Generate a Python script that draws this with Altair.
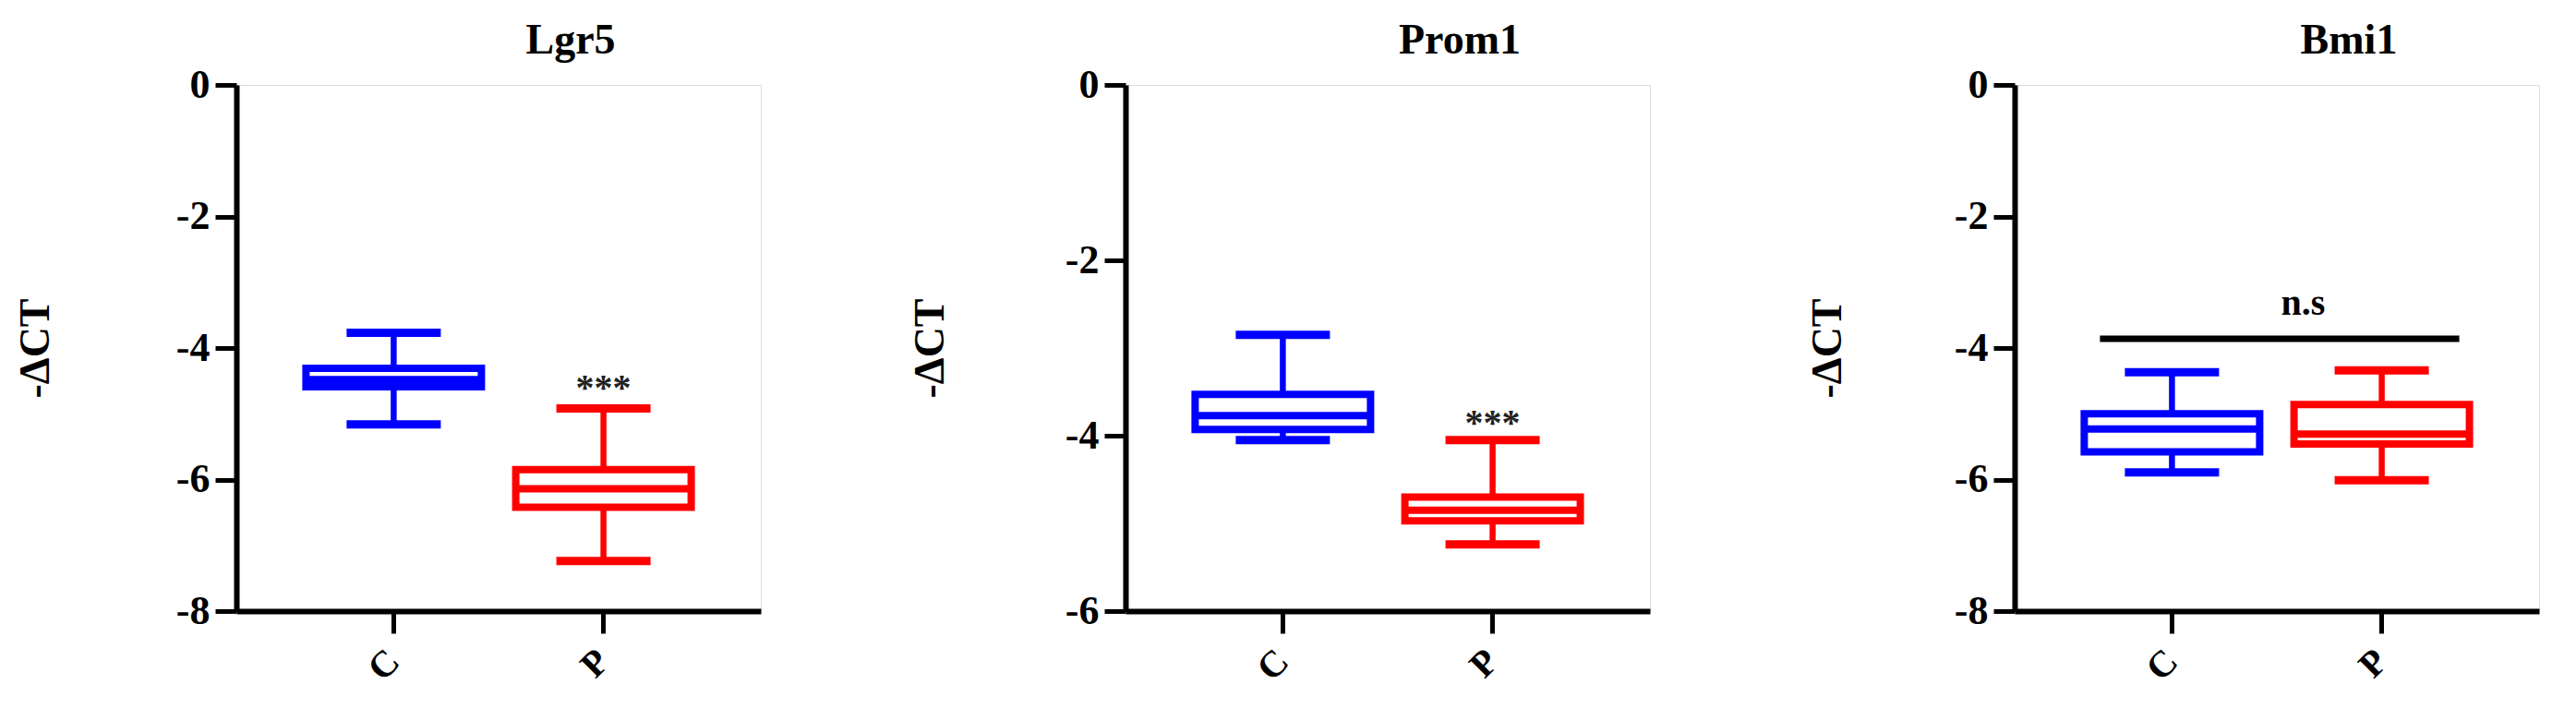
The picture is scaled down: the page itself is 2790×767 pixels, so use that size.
import altair as alt
import pandas as pd

genes = ["Lgr5", "Prom1", "Bmi1"]
groups = ["C", "P"]
group_colors = ["#0000FF", "#FF0000"]

# box statistics per gene, one value per group (C, P)
low = {"Lgr5": [-5.16, -7.24], "Prom1": [-4.05, -5.24], "Bmi1": [-5.89, -6.01]}
q1 = {"Lgr5": [-4.59, -6.42], "Prom1": [-3.93, -4.97], "Bmi1": [-5.58, -5.46]}
median = {"Lgr5": [-4.48, -6.14], "Prom1": [-3.77, -4.85], "Bmi1": [-5.23, -5.31]}
q3 = {"Lgr5": [-4.31, -5.85], "Prom1": [-3.53, -4.70], "Bmi1": [-5.00, -4.86]}
high = {"Lgr5": [-3.77, -4.92], "Prom1": [-2.85, -4.05], "Bmi1": [-4.37, -4.34]}

y_min = {"Lgr5": -8, "Prom1": -6, "Bmi1": -8}
y_ticks = {"Lgr5": [0, -2, -4, -6, -8], "Prom1": [0, -2, -4, -6], "Bmi1": [0, -2, -4, -6, -8]}

sig_label = {"Lgr5": "***", "Prom1": "***", "Bmi1": "n.s"}
sig_y = {"Lgr5": -4.50, "Prom1": -3.78, "Bmi1": -3.36}
ns_line_y = -3.86

FONT = "Liberation Serif"
W, H = 568, 570
title_x = {"Lgr5": -218, "Prom1": -212, "Bmi1": -203}
color_scale = alt.Scale(domain=groups, range=group_colors)


def panel(g):
    df = pd.DataFrame({
        "group": groups,
        "low": low[g], "q1": q1[g], "median": median[g], "q3": q3[g], "high": high[g],
    })
    caps = pd.concat([
        pd.DataFrame({"group": groups, "v": low[g]}),
        pd.DataFrame({"group": groups, "v": high[g]}),
    ])
    yscale = alt.Scale(domain=[y_min[g], 0], nice=False, zero=False)
    xscale = alt.Scale(domain=groups, padding=0.5)
    yaxis = alt.Axis(
        values=y_ticks[g], grid=False, domainWidth=6, domainColor="black",
        tickWidth=5, tickSize=23, tickColor="black",
        labelFont=FONT, labelFontSize=44, labelFontWeight="bold", labelColor="black",
        labelPadding=6, labelExpr="toString(datum.value)",
        title="-ΔCT", titleFont=FONT, titleFontSize=46, titleFontWeight="bold",
        titleColor="black", titleX=title_x[g], titleY=H / 2, titleBaseline="middle",
        titleAngle=270,
    )
    xaxis = alt.Axis(
        title=None, grid=False, domainWidth=6, domainColor="black",
        tickWidth=5, tickSize=24, tickColor="black",
        labelFont=FONT, labelFontSize=40, labelFontWeight="bold", labelColor="black",
        labelAngle=-45, labelAlign="right", labelBaseline="middle", labelPadding=24,
    )
    x = alt.X("group:N", scale=xscale, axis=xaxis, sort=groups)
    color = alt.Color("group:N", scale=color_scale, legend=None)

    base = alt.Chart(df)
    whisker = base.mark_rule(strokeWidth=6.5).encode(
        x=x, y=alt.Y("low:Q", scale=yscale, axis=yaxis), y2="high:Q", color=color
    )
    box = base.mark_bar(size=190, fill="white", strokeWidth=8).encode(
        x=x, y="q1:Q", y2="q3:Q", stroke=alt.Stroke("group:N", scale=color_scale, legend=None)
    )
    med = base.mark_tick(size=190, thickness=8, opacity=1).encode(
        x=x, y="median:Q", color=color
    )
    cap = alt.Chart(caps).mark_tick(size=102, thickness=9, opacity=1).encode(
        x=x, y="v:Q", color=color
    )
    layers = [whisker, box, med, cap]

    if sig_label[g] == "***":
        ann = pd.DataFrame({"group": ["P"], "y": [sig_y[g]], "t": [sig_label[g]]})
        layers.append(
            alt.Chart(ann).mark_text(font=FONT, fontSize=40, fontWeight="bold",
                                     baseline="middle", dy=8, color="#222222").encode(
                x=x, y="y:Q", text="t:N")
        )
    else:
        line = pd.DataFrame({"a": ["C"], "b": ["P"], "y": [ns_line_y]})
        layers.append(
            alt.Chart(line).mark_rule(strokeWidth=7, color="black", xOffset=-78, x2Offset=84).encode(
                x=alt.X("a:N", scale=xscale, axis=xaxis, sort=groups), x2="b:N", y="y:Q")
        )
        ann = pd.DataFrame({"group": ["C"], "y": [sig_y[g]], "t": [sig_label[g]]})
        layers.append(
            alt.Chart(ann).mark_text(font=FONT, fontSize=40, fontWeight="bold",
                                     baseline="middle", dx=142, dy=-2, color="black").encode(
                x=x, y="y:Q", text="t:N")
        )

    return alt.layer(*layers).properties(
        width=W, height=H,
        title=alt.TitleParams(g, font=FONT, fontSize=46, fontWeight="bold", color="black",
                              anchor="middle", dx=78, offset=2),
    )


chart = alt.hconcat(*[panel(g) for g in genes], spacing=395, bounds="flush").properties(
    padding={"left": 6, "top": 12, "right": 10, "bottom": 5}
).configure_view(stroke=None).configure(background="white")

chart.save("out.html", embed_options={"renderer": "svg", "actions": False})
